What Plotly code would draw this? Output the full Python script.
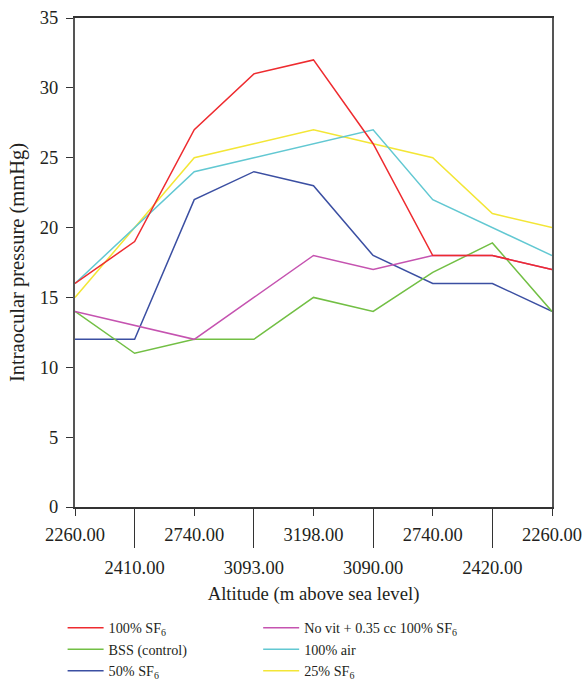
import plotly.graph_objects as go

altitudes = ["2260.00", "2410.00", "2740.00", "3093.00", "3198.00",
             "3090.00", "2740.00", "2420.00", "2260.00"]
positions = list(range(len(altitudes)))

sf6_100 = [16, 19, 27, 31, 32, 26, 18, 18, 17]
novit_sf6 = [14, 13, 12, 15, 18, 17, 18, 18, 17]
bss = [14, 11, 12, 12, 15, 14, 16.8, 18.9, 14]
air_100 = [16, 20, 24, 25, 26, 27, 22, 20, 18]
sf6_50 = [12, 12, 22, 24, 23, 18, 16, 16, 14]
sf6_25 = [15, 20, 25, 26, 27, 26, 25, 21, 20]

# (name, values, colour, legend column, rank in column)
series = [
    ("25% SF<sub>6</sub>", sf6_25, "#F3E636", "legend2", 3),
    ("100% air", air_100, "#62C8D2", "legend2", 2),
    ("50% SF<sub>6</sub>", sf6_50, "#3B4FA2", "legend", 3),
    ("BSS (control)", bss, "#72BF44", "legend", 2),
    ("No vit + 0.35 cc 100% SF<sub>6</sub>", novit_sf6, "#C553B0", "legend2", 1),
    ("100% SF<sub>6</sub>", sf6_100, "#EE2B2F", "legend", 1),
]

FONT = "Liberation Serif"
FS = 18.5
XTFS = 18.7
YTFS = 20.5
LFS = 14.2

fig = go.Figure()
for name, vals, col, leg, rank in series:
    fig.add_trace(go.Scatter(x=positions, y=vals, mode="lines", name=name,
                             legend=leg, legendrank=rank,
                             line=dict(color=col, width=1.5)))

even = [i for i in positions if i % 2 == 0]
odd = [i for i in positions if i % 2 == 1]

W, H = 585, 700
L, T = 75, 18
plot_r, plot_b = 552, 507
plot_h = plot_b - T

leg_top = 612
leg_y = (plot_b - leg_top) / plot_h

leg_common = dict(orientation="v", yanchor="top", xanchor="left",
                  font=dict(family=FONT, size=LFS), itemwidth=36,
                  tracegroupgap=0, bgcolor="rgba(0,0,0,0)")

fig.update_layout(
    width=W, height=H,
    margin=dict(l=L, r=W - plot_r, t=T, b=H - plot_b),
    plot_bgcolor="white", paper_bgcolor="white",
    font=dict(family=FONT, size=FS, color="#231F20"),
    showlegend=True,
    legend=dict(x=-0.026, y=leg_y, **leg_common),
    legend2=dict(x=0.384, y=leg_y, **leg_common),
    xaxis=dict(range=[0, 8], tickmode="array", tickvals=even,
               ticktext=[altitudes[i] for i in even],
               ticks="outside", ticklen=7, tickwidth=1.3, tickcolor="#333",
               showline=True, linecolor="#333", linewidth=1.5, mirror=True,
               showgrid=False, zeroline=False, automargin=False,
               ticklabeloverflow="allow", ticklabelstandoff=3,
               tickfont=dict(size=FS)),
    xaxis2=dict(range=[0, 8], overlaying="x", side="bottom", anchor="y",
                tickmode="array", tickvals=odd,
                ticktext=[altitudes[i] for i in odd],
                ticks="outside", ticklen=40, tickwidth=1.3, tickcolor="#333",
                showline=False, showgrid=False, zeroline=False, automargin=False,
                ticklabeloverflow="allow", tickfont=dict(size=FS),
                ticklabelstandoff=4,
                title=dict(text="Altitude (m above sea level)", standoff=9,
                           font=dict(size=XTFS))),
    yaxis=dict(range=[0, 35], tickmode="array", tickvals=list(range(0, 36, 5)),
               ticks="outside", ticklen=7, tickwidth=1.3, tickcolor="#333",
               showline=True, linecolor="#555", linewidth=2, mirror=True,
               showgrid=False, zeroline=False, automargin=False,
               ticklabeloverflow="allow", ticklabelstandoff=4,
               title=dict(text="Intraocular pressure (mmHg)", standoff=10,
                          font=dict(size=YTFS)),
               tickfont=dict(size=FS)),
)
fig.add_trace(go.Scatter(x=[0, 8], y=[None, None], xaxis="x2", showlegend=False,
                         hoverinfo="skip", mode="lines"))

fig.write_html(
    "out.html",
    config={"displayModeBar": False},
    post_script="document.body.style.margin='0';document.body.style.overflow='hidden';",
)
